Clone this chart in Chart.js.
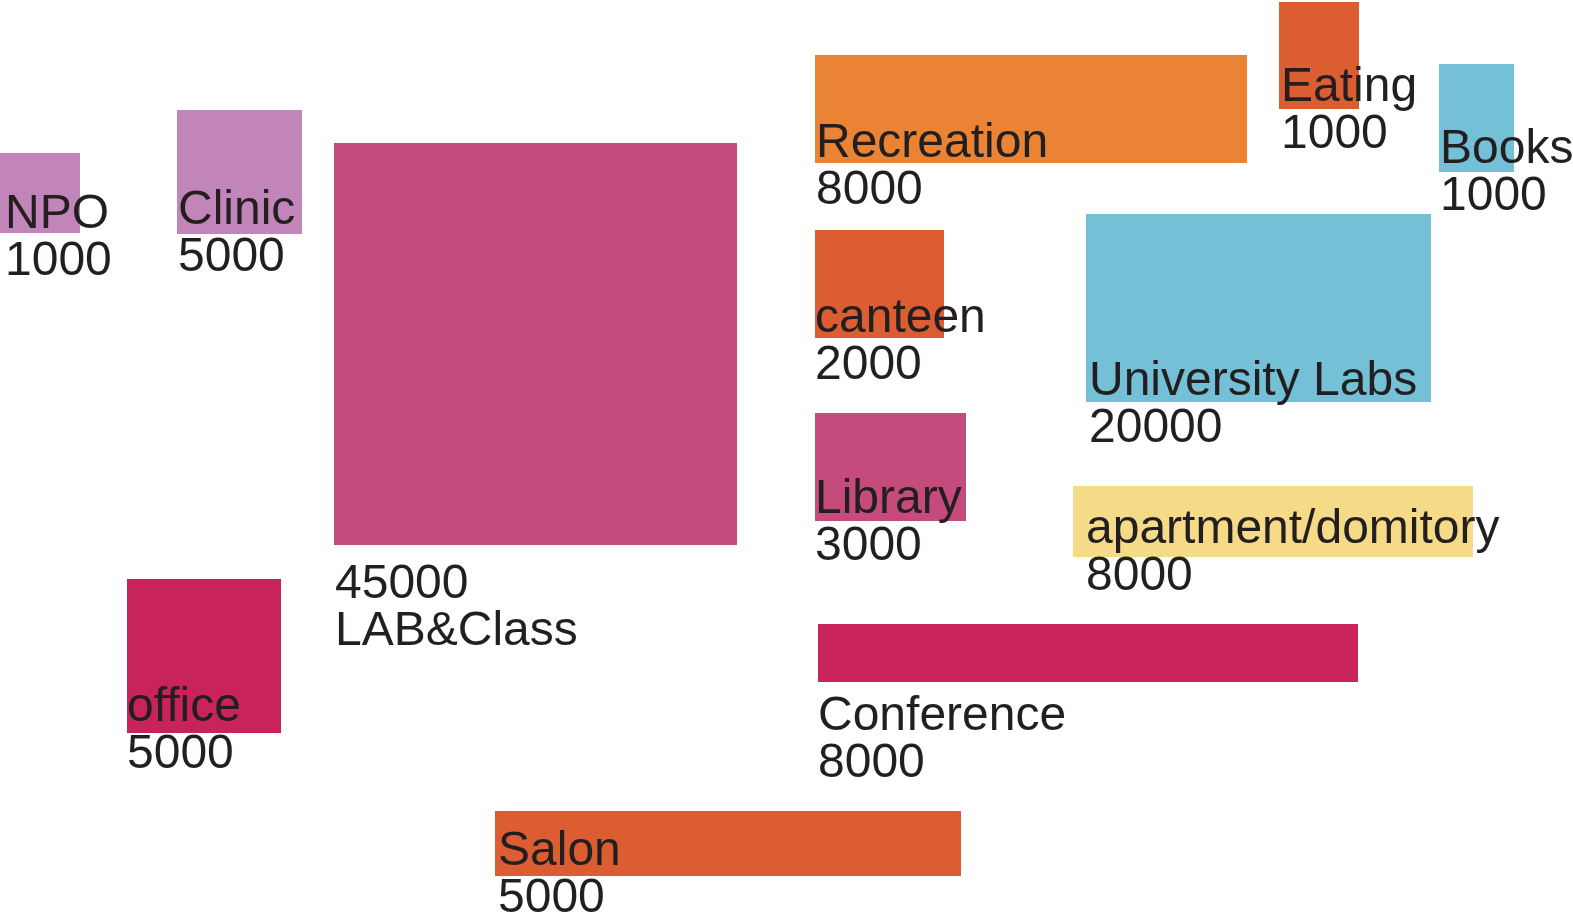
<!DOCTYPE html>
<html>
<head>
<meta charset="utf-8">
<script src="https://cdn.jsdelivr.net/npm/chart.js@4.4.1/dist/chart.umd.min.js"></script>
<style>
  html, body { margin: 0; padding: 0; background: #fff; }
  #wrap { width: 1573px; height: 917px; position: relative; }
</style>
</head>
<body>
<div id="wrap"><canvas id="planChart"></canvas></div>
<script>
// program areas
const names = ["NPO", "Clinic", "LAB&Class", "office", "Salon", "Recreation", "canteen",
  "Library", "Conference", "Eating", "Books", "University Labs", "apartment/domitory"];
const areas = [1000, 5000, 45000, 5000, 5000, 8000, 2000, 3000, 8000, 1000, 1000, 20000, 8000];

// plan layout (plan units)
const planX = [0, 177, 334, 127, 495, 815, 815, 815, 818, 1279, 1439, 1086, 1073];
const planY = [153, 110, 143, 579, 811, 55, 230, 413, 624, 2, 64, 214, 486];
const planW = [80, 125, 403, 154, 466, 432, 129, 151, 540, 80, 75, 345, 400];
const planH = [80, 124, 402, 154, 65, 108, 108, 108, 58, 107, 108, 188, 71];

// label anchor (first line baseline), and whether the number comes first
const labelX = [5, 178, 335, 127, 498, 816, 815, 815, 818, 1281, 1440, 1089, 1086];
const labelY = [228, 224, 598, 721, 865, 157, 332, 513, 730, 101, 163, 395, 543];
const numberFirst = [false, false, true, false, false, false, false, false, false, false, false, false, false];

const colors = ["#c285b9", "#c285b9", "#c44b7c", "#c8245a", "#db5d31", "#ea8333", "#db5d31",
  "#c44b7c", "#c8245a", "#db5d31", "#74c1d7", "#74c1d7", "#f5db88"];

const datasets = names.map((name, i) => {
  const x0 = planX[i], x1 = planX[i] + planW[i];
  const y0 = planY[i], y1 = planY[i] + planH[i];
  return {
    label: name,
    data: [{x: x0, y: y0}, {x: x1, y: y0}, {x: x1, y: y1}, {x: x0, y: y1}, {x: x0, y: y0}],
    showLine: true,
    fill: "shape",
    backgroundColor: colors[i],
    borderColor: colors[i],
    borderWidth: 0,
    pointRadius: 0,
    pointHoverRadius: 0,
    tension: 0
  };
});

const labelPlugin = {
  id: "roomLabels",
  afterDatasetsDraw(chart) {
    const ctx = chart.ctx;
    const xs = chart.scales.x, ys = chart.scales.y;
    ctx.save();
    ctx.font = "48px 'Liberation Sans', Arial, sans-serif";
    ctx.fillStyle = "#231f20";
    ctx.textAlign = "left";
    ctx.textBaseline = "alphabetic";
    names.forEach((name, i) => {
      const px = xs.getPixelForValue(labelX[i]);
      const py = ys.getPixelForValue(labelY[i]);
      const lines = numberFirst[i] ? [String(areas[i]), name] : [name, String(areas[i])];
      ctx.fillText(lines[0], px, py);
      ctx.fillText(lines[1], px, py + 47);
    });
    ctx.restore();
  }
};

new Chart(document.getElementById("planChart"), {
  type: "scatter",
  data: { datasets: datasets },
  options: {
    responsive: true,
    maintainAspectRatio: false,
    animation: false,
    layout: { padding: 0 },
    scales: {
      x: { type: "linear", min: 0, max: 1573, display: false },
      y: { type: "linear", min: 0, max: 917, reverse: true, display: false }
    },
    plugins: {
      legend: { display: false },
      tooltip: { enabled: false }
    }
  },
  plugins: [labelPlugin]
});
</script>
</body>
</html>
